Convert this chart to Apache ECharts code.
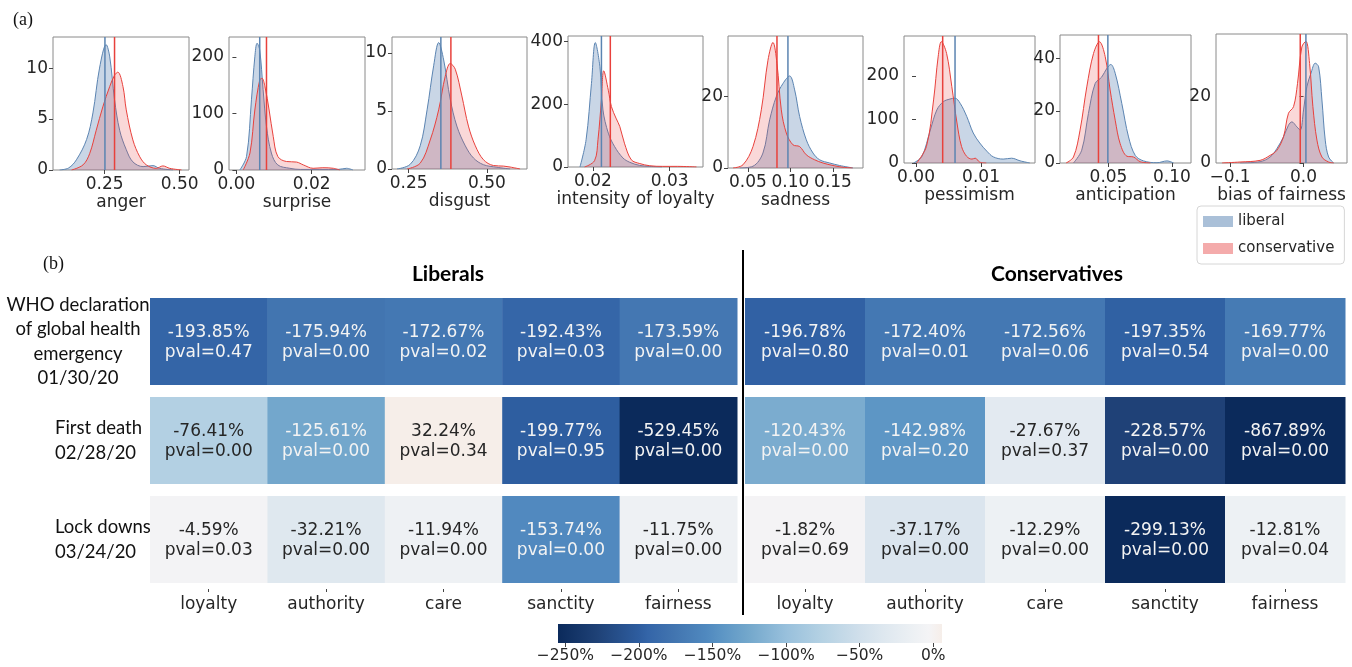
<!DOCTYPE html>
<html><head><meta charset="utf-8">
<script src="https://cdn.jsdelivr.net/npm/echarts@6/dist/echarts.min.js"></script>
<style>html,body{margin:0;padding:0;background:#fff}#c{width:1352px;height:667px}</style>
</head><body><div id="c"></div><script>
// ---------- (a) density panels data ----------
const panelNames = ['anger','surprise','disgust','intensity of loyalty','sadness','pessimism','anticipation','bias of fairness'];
const angerLib = [[0.10,0],[0.13,0.2],[0.156,1.0],[0.19,3.0],[0.211,5.6],[0.233,10.0],[0.255,12.3],[0.267,11.1],[0.283,6.9],[0.30,3.9],[0.322,2.0],[0.344,0.8],[0.378,0.33],[0.411,0.43],[0.433,0.16],[0.478,0]];
const angerCon = [[0.14,0],[0.178,0.5],[0.20,1.6],[0.222,3.9],[0.244,6.2],[0.267,8.2],[0.283,9.3],[0.294,9.6],[0.311,8.2],[0.322,5.9],[0.344,2.95],[0.367,1.3],[0.389,0.5],[0.422,0.16],[0.444,0.4],[0.467,0.16],[0.506,0]];
const surpriseLib = [[0.0009,0],[0.0027,24],[0.004,124],[0.0049,200],[0.0055,224],[0.0062,212],[0.0071,142],[0.008,77],[0.0093,30],[0.011,9],[0.0142,3],[0.017,1],[0.027,1],[0.0293,3],[0.031,0]];
const surpriseCon = [[0.0018,0],[0.0036,30],[0.0049,106],[0.0062,159],[0.0068,162],[0.0076,147],[0.0087,106],[0.0098,59],[0.011,24],[0.0133,15],[0.016,14],[0.0178,9],[0.0204,3],[0.023,4],[0.0258,3],[0.0275,0]];
const disgustLib = [[0.213,0],[0.255,0.4],[0.287,2],[0.309,5.1],[0.33,8.9],[0.346,10.9],[0.362,9.4],[0.383,6],[0.404,3.7],[0.431,2],[0.457,0.95],[0.489,0.37],[0.532,0.15],[0.574,0]];
const disgustCon = [[0.245,0],[0.287,0.5],[0.319,2.5],[0.346,5.1],[0.367,8],[0.383,9.1],[0.399,8.6],[0.42,6.3],[0.441,3.7],[0.463,2],[0.489,0.8],[0.521,0.3],[0.553,0.25],[0.574,0.17],[0.606,0]];
const loyaltyLib = [[0.0183,0],[0.0191,87],[0.0198,267],[0.0203,397],[0.0209,320],[0.0213,182],[0.022,108],[0.0228,66],[0.0239,29],[0.0248,15],[0.0261,5],[0.0274,2],[0.029,0]];
const loyaltyCon = [[0.0189,0],[0.0202,20],[0.02065,87],[0.0211,214],[0.0214,307],[0.022,245],[0.0224,193],[0.023,156],[0.0235,129],[0.0241,76],[0.025,23],[0.0261,11],[0.0274,4],[0.0291,2],[0.031,2],[0.0335,0]];
const sadnessLib = [[0.0402,0],[0.0559,0.5],[0.0676,4.2],[0.0755,13.5],[0.0833,20],[0.0912,23.7],[0.099,25.8],[0.1049,21.9],[0.1108,14.4],[0.1186,7.9],[0.1265,4.2],[0.1343,2.3],[0.1461,1.4],[0.1578,0.7],[0.1735,0]];
const sadnessCon = [[0.0324,0],[0.0441,0.9],[0.0559,6],[0.0657,16.3],[0.0735,30.2],[0.0794,35.2],[0.0841,29.3],[0.0892,16.3],[0.0951,9.8],[0.1029,6.5],[0.1108,6],[0.1186,3.7],[0.1284,2.3],[0.1382,1.4],[0.15,0.7],[0.1618,0.2],[0.173,0]];
const pessimismLib = [[-0.0004,0],[0.0009,15],[0.0022,76],[0.0032,122],[0.0042,141],[0.0052,147],[0.006,149],[0.0068,137],[0.0078,107],[0.0088,69],[0.0098,46],[0.0109,27],[0.0119,14],[0.0134,9],[0.0147,11],[0.016,5],[0.0175,0]];
const pessimismCon = [[0.0001,0],[0.0016,38],[0.0027,145],[0.0034,244],[0.0039,279],[0.0047,252],[0.0055,176],[0.0063,92],[0.007,38],[0.0078,15],[0.0086,9],[0.0091,11],[0.0098,2],[0.0108,0]];
const anticipationLib = [[0.0224,0],[0.0289,4.9],[0.0342,19],[0.0395,30.5],[0.0447,33],[0.0487,36.3],[0.0518,37.8],[0.0553,34.4],[0.0605,22.8],[0.0658,10],[0.0711,2.9],[0.0776,0.8],[0.0882,0.1],[0.0961,0.8],[0.1013,0]];
const anticipationCon = [[0.0166,0],[0.0224,2.3],[0.0276,12.6],[0.0329,29.2],[0.0382,42],[0.0429,46.5],[0.0474,40.8],[0.0513,28],[0.0553,16.4],[0.0592,7.4],[0.0645,2.6],[0.0697,2.3],[0.075,0.5],[0.083,0]];
const fairnessLib = [[-0.0864,0],[-0.0591,0.4],[-0.0455,1.8],[-0.0364,4.3],[-0.0273,7.9],[-0.0205,11.4],[-0.0159,12.4],[-0.0091,10.9],[-0.0045,9.9],[0,16],[0.0045,23],[0.01,27],[0.0159,30.1],[0.0205,29],[0.025,19],[0.0295,6.9],[0.0341,1.8],[0.0409,0]];
const fairnessCon = [[-0.111,0],[-0.0864,0.3],[-0.0591,0.8],[-0.0455,2.3],[-0.0364,3.8],[-0.0273,7.9],[-0.0205,15],[-0.0136,17],[-0.0082,24],[-0.0023,35],[0.0032,36.7],[0.0082,30],[0.0127,17],[0.0182,6.9],[0.025,1.8],[0.0341,0.3],[0.041,0]];
const meanLib = [0.251, 0.0062, 0.353, 0.0211, 0.097, 0.006, 0.0495, 0.0032];
const meanCon = [0.283, 0.008, 0.385, 0.02226, 0.0841, 0.0041, 0.0421, -0.0045];
const xTicks = [[0.25,0.5],[0,0.02],[0.25,0.5],[0.02,0.03],[0.05,0.1,0.15],[0,0.01],[0.05,0.1],[-0.1,0]];
const xTickDecimals = [2,2,2,2,2,2,2,1];
const yTicks = [[0,5,10],[0,100,200],[0,5,10],[0,200,400],[0,20],[0,100,200],[0,20,40],[0,20]];
const libSeriesData = [angerLib, surpriseLib, disgustLib, loyaltyLib, sadnessLib, pessimismLib, anticipationLib, fairnessLib];
const conSeriesData = [angerCon, surpriseCon, disgustCon, loyaltyCon, sadnessCon, pessimismCon, anticipationCon, fairnessCon];

// ---------- (b) heatmap data ----------
const foundations = ['loyalty','authority','care','sanctity','fairness'];
const eventLabels = ['WHO declaration\nof global health\nemergency\n01/30/20', 'First death\n02/28/20', 'Lock downs\n03/24/20'];
const libChange = [[-193.85,-175.94,-172.67,-192.43,-173.59],[-76.41,-125.61,32.24,-199.77,-529.45],[-4.59,-32.21,-11.94,-153.74,-11.75]];
const libPval = [[0.47,0.00,0.02,0.03,0.00],[0.00,0.00,0.34,0.95,0.00],[0.03,0.00,0.00,0.00,0.00]];
const conChange = [[-196.78,-172.40,-172.56,-197.35,-169.77],[-120.43,-142.98,-27.67,-228.57,-867.89],[-1.82,-37.17,-12.29,-299.13,-12.81]];
const conPval = [[0.80,0.01,0.06,0.54,0.00],[0.00,0.20,0.37,0.00,0.00],[0.69,0.00,0.00,0.00,0.04]];
const colorbarRange = [-255, 6];
const colorbarTicks = [-250,-200,-150,-100,-50,0];

// ---------- styles / layout ----------
const panelLayout = [
  {left:53, top:37, width:136, height:133, xMin:0.078, xMax:0.531, yMax:13.05},
  {left:229, top:37, width:136, height:133, xMin:-0.00197, xMax:0.0342, yMax:235},
  {left:392, top:37, width:135, height:132, xMin:0.197, xMax:0.628, yMax:11.38},
  {left:568, top:36, width:135, height:131, xMin:0.01674, xMax:0.03435, yMax:418},
  {left:728, top:36, width:135, height:132, xMin:0.0265, xMax:0.1853, yMax:37},
  {left:904, top:36, width:131, height:127, xMin:-0.00185, xMax:0.0183, yMax:292},
  {left:1060, top:35, width:131, height:128, xMin:0.0118, xMax:0.115, yMax:49.1},
  {left:1216, top:34, width:131, height:129, xMin:-0.1191, xMax:0.0591, yMax:38.9}
];
const cmapStops = [[-255,'#0b2a5b'],[-228,'#1f4277'],[-200,'#2e5d9f'],[-194,'#3465a8'],[-176,'#4275b0'],[-154,'#5089bf'],[-143,'#5d96c5'],[-125,'#74a8cc'],[-100,'#98c0dc'],[-76,'#b4d1e3'],[-50,'#d0dfeb'],[-35,'#dde7ef'],[-12,'#eef1f4'],[-3,'#f4f4f6'],[6,'#f6eee9']];
const BLUE = '#5b84b1', RED = '#e8413c';
const SANS = '"DejaVu Sans", sans-serif';
const TXT = '#262626';

function hexToRgb(h){ return [parseInt(h.substr(1,2),16), parseInt(h.substr(3,2),16), parseInt(h.substr(5,2),16)]; }
function cmap(v){
  if (v <= cmapStops[0][0]) return cmapStops[0][1];
  for (let i = 1; i < cmapStops.length; i++) {
    if (v <= cmapStops[i][0]) {
      const a = cmapStops[i-1], b = cmapStops[i];
      const t = (v - a[0]) / (b[0] - a[0]);
      const ca = hexToRgb(a[1]), cb = hexToRgb(b[1]);
      return 'rgb(' + ca.map((c, k) => Math.round(c + (cb[k] - c) * t)).join(',') + ')';
    }
  }
  return cmapStops[cmapStops.length-1][1];
}
const NCOL = 66;
const cmapColors = [];
for (let i = 0; i < NCOL; i++) cmapColors.push(cmap(colorbarRange[0] + i * (colorbarRange[1] - colorbarRange[0]) / (NCOL - 1)));

function lum(col){
  const c = echarts.color.parse(col);
  const f = x => { x /= 255; return x <= 0.03928 ? x / 12.92 : Math.pow((x + 0.055) / 1.055, 2.4); };
  return 0.2126 * f(c[0]) + 0.7152 * f(c[1]) + 0.0722 * f(c[2]);
}

const grids = [], xAxes = [], yAxes = [], series = [];
panelLayout.forEach((p, i) => {
  grids.push({left:p.left, top:p.top, width:p.width, height:p.height, show:true, borderColor:'#8a8a8a', borderWidth:1, backgroundColor:'transparent'});
  const dec = xTickDecimals[i];
  xAxes.push({type:'value', gridIndex:i, min:p.xMin, max:p.xMax, name:panelNames[i], nameLocation:'middle', nameGap:23,
    nameTextStyle:{fontFamily:SANS, fontSize:17, color:TXT},
    axisLine:{show:false}, splitLine:{show:false},
    axisTick:{show:true, length:4, customValues:xTicks[i], lineStyle:{color:'#444'}},
    axisLabel:{customValues:xTicks[i], margin:6, fontFamily:SANS, fontSize:17, color:TXT,
      formatter: v => { const s = Number(v).toFixed(dec); return s.replace('-', '\u2212'); }}});
  yAxes.push({type:'value', gridIndex:i, min:0, max:p.yMax,
    axisLine:{show:false}, splitLine:{show:false},
    axisTick:{show:true, length:4, customValues:yTicks[i], lineStyle:{color:'#444'}},
    axisLabel:{customValues:yTicks[i], margin:5, fontFamily:SANS, fontSize:17, color:TXT, formatter: v => String(Math.round(v))}});
  series.push({type:'line', name:'liberal', xAxisIndex:i, yAxisIndex:i, data:libSeriesData[i], smooth:0.35, showSymbol:false, symbol:'none',
    lineStyle:{color:BLUE, width:1}, itemStyle:{color:BLUE}, areaStyle:{color:'rgba(70,115,170,0.42)'}, z:2});
  series.push({type:'line', name:'conservative', xAxisIndex:i, yAxisIndex:i, data:conSeriesData[i], smooth:0.35, showSymbol:false, symbol:'none',
    lineStyle:{color:RED, width:1}, itemStyle:{color:RED}, areaStyle:{color:'rgba(232,70,70,0.30)'}, z:3});
  // mean lines drawn through the panel's own scales
  series.push({type:'line', name:'liberal mean', xAxisIndex:i, yAxisIndex:i, data:[[meanLib[i], 0], [meanLib[i], p.yMax]],
    showSymbol:false, symbol:'none', lineStyle:{color:BLUE, width:1.5}, itemStyle:{color:BLUE}, z:4, silent:true});
  series.push({type:'line', name:'conservative mean', xAxisIndex:i, yAxisIndex:i, data:[[meanCon[i], 0], [meanCon[i], p.yMax]],
    showSymbol:false, symbol:'none', lineStyle:{color:RED, width:1.5}, itemStyle:{color:RED}, z:5, silent:true});
});

// heatmap grids
const heatGrids = [{left:150, top:292, width:587, height:297}, {left:745, top:292, width:600, height:297}];
heatGrids.forEach((g, k) => {
  grids.push(Object.assign({}, g));
  const gi = 8 + k;
  xAxes.push({type:'category', gridIndex:gi, data:foundations, axisLine:{show:false},
    axisTick:{show:true, alignWithLabel:true, length:3, lineStyle:{color:'#444'}},
    axisLabel:{margin:7, fontFamily:SANS, fontSize:17, color:TXT}});
  yAxes.push({type:'category', gridIndex:gi, data:['0','1','2'], inverse:true, axisLine:{show:false}, axisTick:{show:false},
    axisLabel: k === 0 ? {show:true, margin:2,
      formatter: (val, idx) => (idx === 0 ? '{c|' : '{l|') + eventLabels[idx] + '}',
      rich:{c:{width:140, align:'center', fontFamily:'Lato, "Open Sans", sans-serif', fontSize:18.5, lineHeight:24.5, color:'#111'},
            l:{width:93, align:'left', fontFamily:'Lato, "Open Sans", sans-serif', fontSize:18.5, lineHeight:24.5, color:'#111'}}} : {show:false}});
});

function buildHeat(change, pval){
  const out = [];
  change.forEach((row, r) => row.forEach((v, c) => out.push([c, r, v, pval[r][c]])));
  return out;
}
function heatRender(params, api){
  const col = api.value(0), row = api.value(1), v = api.value(2), p = api.value(3);
  const c = api.coord([col, row]);
  const s = api.size([1, 1]);
  const h = s[1] - 12;
  const fill = api.visual('color');
  const tc = lum(fill) > 0.408 ? TXT : '#f3f3f3';
  return {type:'group', children:[
    {type:'rect', shape:{x:c[0]-s[0]/2, y:c[1]-h/2, width:s[0]+0.5, height:h}, style:{fill:fill}},
    {type:'text', x:c[0], y:c[1]+1, style:{text:v.toFixed(2) + '%\npval=' + p.toFixed(2), fill:tc,
      font:'17px "DejaVu Sans"', align:'center', verticalAlign:'middle', lineHeight:20}}
  ]};
}
const heatIdx0 = series.length;
series.push({type:'custom', name:'liberalsHeat', xAxisIndex:8, yAxisIndex:8, dimensions:['col','row','change','pval'], encode:{x:0, y:1},
  data: buildHeat(libChange, libPval), renderItem: heatRender});
series.push({type:'custom', name:'conservativesHeat', xAxisIndex:9, yAxisIndex:9, dimensions:['col','row','change','pval'], encode:{x:0, y:1},
  data: buildHeat(conChange, conPval), renderItem: heatRender});

// colorbar
grids.push({left:558, top:624, width:384, height:19});
xAxes.push({type:'value', gridIndex:10, min:colorbarRange[0], max:colorbarRange[1], axisLine:{show:false}, splitLine:{show:false},
  axisTick:{show:true, length:4, customValues:colorbarTicks, lineStyle:{color:'#444'}},
  axisLabel:{customValues:colorbarTicks, margin:5, fontFamily:SANS, fontSize:15.5, color:TXT,
    formatter: v => (v < 0 ? '\u2212' : '') + Math.abs(Math.round(v)) + '%'}});
yAxes.push({type:'value', gridIndex:10, min:0, max:1, show:false});
const gradStops = cmapStops.map(s => ({offset:(s[0]-colorbarRange[0])/(colorbarRange[1]-colorbarRange[0]), color:s[1]}));
series.push({type:'custom', name:'colorbar', xAxisIndex:10, yAxisIndex:10, data:[[colorbarRange[0], colorbarRange[1]]],
  renderItem: (params, api) => {
    const p0 = api.coord([api.value(0), 0]);
    const p1 = api.coord([api.value(1), 1]);
    return {type:'rect', shape:{x:p0[0], y:p1[1], width:p1[0]-p0[0], height:p0[1]-p1[1]},
      style:{fill:new echarts.graphic.LinearGradient(0,0,1,0, gradStops)}};
  }});

const chart = echarts.init(document.getElementById('c'), null, {renderer:'canvas'});
chart.setOption({
  animation:false,
  backgroundColor:'#fff',
  title:[
    {text:'(a)', left:8, top:6, textStyle:{fontFamily:'"Liberation Serif", serif', fontSize:18, fontWeight:'normal', color:'#111'}},
    {text:'(b)', left:38, top:250, textStyle:{fontFamily:'"Liberation Serif", serif', fontSize:18, fontWeight:'normal', color:'#111'}},
    {text:'Liberals', left:443, top:259, textAlign:'center', textStyle:{fontFamily:'Lato, sans-serif', fontSize:21, fontWeight:'bold', color:'#000'}},
    {text:'Conservatives', left:1052, top:259, textAlign:'center', textStyle:{fontFamily:'Lato, sans-serif', fontSize:21, fontWeight:'bold', color:'#000'}}
  ],
  legend:{left:1197, top:206, orient:'vertical', icon:'rect', itemWidth:30, itemHeight:11, itemGap:12,
    padding:[8,10,8,6], borderColor:'#d6d6d6', borderWidth:1, borderRadius:4,
    textStyle:{fontFamily:SANS, fontSize:15, color:TXT},
    data:[{name:'liberal', itemStyle:{color:'#aac0d8', borderWidth:0}}, {name:'conservative', itemStyle:{color:'#f4abab', borderWidth:0}}]},
  visualMap:{type:'continuous', show:false, min:colorbarRange[0], max:colorbarRange[1], dimension:2, seriesIndex:[heatIdx0, heatIdx0+1], inRange:{color:cmapColors}},
  grid:grids, xAxis:xAxes, yAxis:yAxes, series:series,
  graphic:[{type:'line', shape:{x1:743, y1:250, x2:743, y2:615}, style:{stroke:'#000', lineWidth:2}}]
});
</script></body></html>
